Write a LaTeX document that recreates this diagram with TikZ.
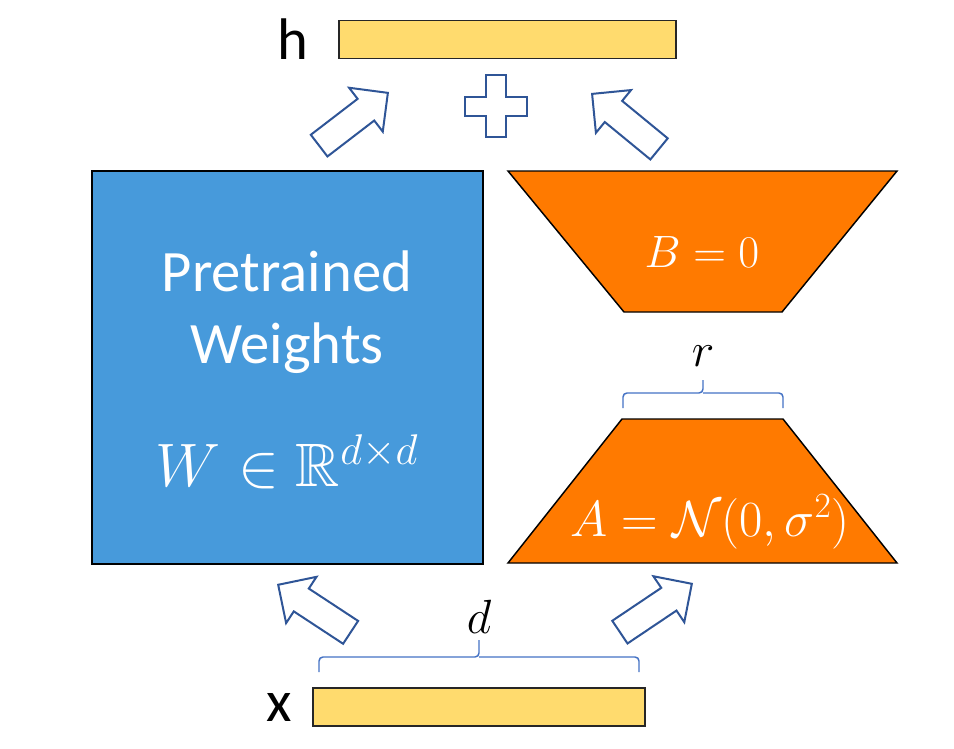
\documentclass[tikz,border=0pt]{standalone}
\usepackage{fix-cm}
\usepackage{amsmath}
\usepackage{amssymb}
\usepackage[no-math]{fontspec}
\setmainfont{Carlito}
\usepackage{tikz}
\usetikzlibrary{shapes.arrows,positioning}
\definecolor{wblue}{HTML}{479ADB}
\definecolor{lrorange}{HTML}{FF7A00}
\definecolor{vecyellow}{HTML}{FFDB6E}
\definecolor{arrowblue}{HTML}{2F5597}
\definecolor{braceblue}{HTML}{4472C4}
\tikzset{
  weightbox/.style={
    draw=black, line width=1.1pt, fill=wblue,
    minimum width=293pt, minimum height=295pt, inner sep=0pt},
  lowrank/.style={draw=black, line width=1.1pt, fill=lrorange, line join=miter},
  vecbar/.style={
    draw=black!85, line width=1.1pt, fill=vecyellow,
    minimum height=28.5pt, inner sep=0pt},
  veclabel/.style={font=\fontsize{44}{50}\selectfont, inner sep=0pt},
  boxtext/.style={
    text=white, align=center, inner sep=0pt,
    font=\fontsize{44}{54}\selectfont},
  mathtext/.style={text=white, inner sep=0pt},
  mathlabel/.style={inner sep=0pt, font=\fontsize{36}{40}\selectfont},
  blockarrow/.style={
    single arrow, draw=arrowblue, fill=white, line width=1.5pt,
    minimum height=65pt, inner xsep=0pt, inner ysep=9.5pt,
    single arrow head extend=10.5pt, anchor=tip},
  bracket/.style={draw=braceblue, line width=1.1pt, rounded corners=3pt},
}
\begin{document}
\begin{tikzpicture}[x=0.75pt, y=-0.75pt]
  \useasboundingbox (0,0) rectangle (954,749);

  % input and output vectors
  \node[vecbar, minimum width=253pt]          (h)    at (507.5,39.5) {};
  \node[veclabel, left=22pt of h]             (hlab) {h};
  \node[vecbar, minimum width=249pt]          (x)    at (479,707) {};
  \node[veclabel, left=15pt of x]             (xlab) {x};

  % frozen weights
  \node[weightbox]                            (W)    at (287.5,367.5) {};
  \node[boxtext]                              (wtxt) at (287,312) {Pretrained\\Weights};
  \node[mathtext, font=\fontsize{46}{50}\selectfont]
                                              (wmat) at (287,462) {$W \in \mathbb{R}^{d\times d}$};

  % low-rank factors
  \draw[lowrank] (508,171) -- (897,171) -- (782,312) -- (624,312) -- cycle;
  \draw[lowrank] (622,419) -- (783,419) -- (897,563) -- (508,563) -- cycle;
  \node[mathtext, font=\fontsize{34}{40}\selectfont] (btxt) at (702,252) {$B = 0$};
  \node[mathtext, font=\fontsize{38}{44}\selectfont] (atxt) at (710,522) {$A = \mathcal{N}(0,\sigma^2)$};

  % braces
  \draw[bracket] (623,408) |- (703,393) -- (703,380);
  \draw[bracket] (703,393) -| (783,408);
  \coordinate (rtip) at (703,380);
  \node[mathlabel, above=10pt of rtip] (rlab) {$r$};
  \draw[bracket] (319,672) |- (479,657) -- (479,640);
  \draw[bracket] (479,657) -| (639,672);
  \coordinate (dtip) at (479,640);
  \node[mathlabel, above=5pt of dtip] (dlab) {$d$};

  % block arrows
  \node[blockarrow, rotate=37.5]  (toh1) at (389,92) {};
  \node[blockarrow, rotate=140.6] (toh2) at (591,93) {};
  \node[blockarrow, rotate=146.7] (toW)  at (277,584) {};
  \node[blockarrow, rotate=33.9]  (toA)  at (693,583) {};

  % plus
  \draw[draw=arrowblue, fill=white, line width=1.5pt]
    (486,75) -- (506,75) -- (506,97) -- (527,97) -- (527,116) -- (506,116)
    -- (506,137) -- (486,137) -- (486,116) -- (465,116) -- (465,97) -- (486,97) -- cycle;
\end{tikzpicture}
\end{document}
